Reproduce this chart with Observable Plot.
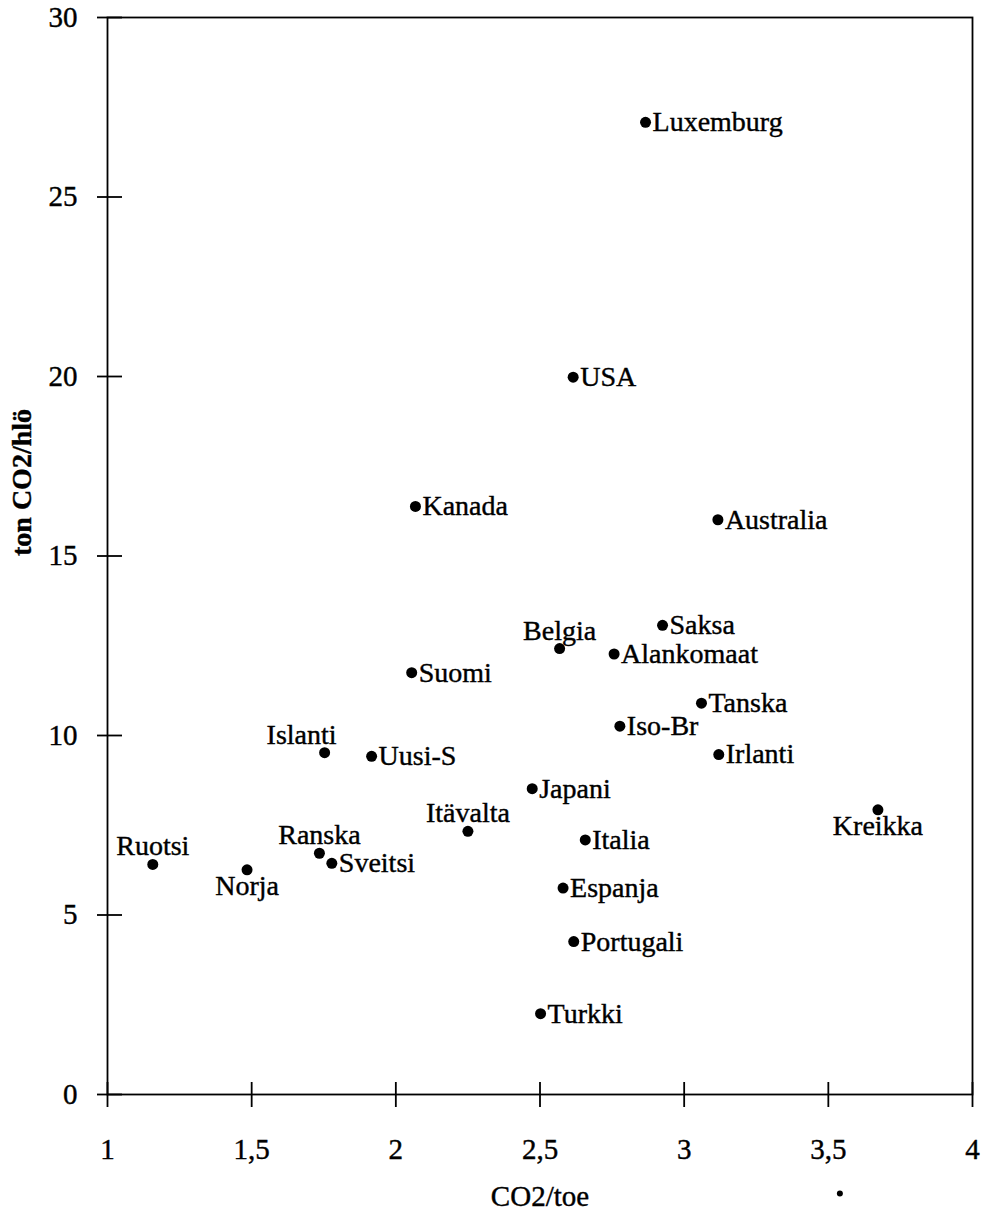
<!DOCTYPE html>
<html>
<head>
<meta charset="utf-8">
<script src="https://cdn.jsdelivr.net/npm/d3@7"></script>
<script src="https://cdn.jsdelivr.net/npm/@observablehq/plot@0.6"></script>
<style>
  html, body { margin: 0; padding: 0; background: #fff; }
  #chart svg { display: block; }
  #chart svg text { stroke: #000; stroke-width: 0.4px; }
</style>
</head>
<body>
<div id="chart"></div>
<script>
// ---- data ----
const countries = ["Luxemburg","USA","Kanada","Australia","Belgia","Saksa","Alankomaat","Suomi","Tanska","Iso-Br","Irlanti","Islanti","Uusi-S","Japani","Itävalta","Italia","Kreikka","Ruotsi","Norja","Ranska","Sveitsi","Espanja","Portugali","Turkki"];
const co2PerToe = [2.866, 2.615, 2.068, 3.117, 2.568, 2.925, 2.757, 2.055, 3.06, 2.777, 3.12, 1.753, 1.916, 2.473, 2.25, 2.657, 3.672, 1.157, 1.484, 1.735, 1.778, 2.58, 2.617, 2.502];
const co2PerCapita = [27.08, 19.98, 16.38, 16.01, 12.42, 13.07, 12.27, 11.75, 10.90, 10.26, 9.47, 9.52, 9.42, 8.52, 7.33, 7.09, 7.93, 6.41, 6.26, 6.72, 6.44, 5.75, 4.26, 2.25];
const xTicks = [1, 1.5, 2, 2.5, 3, 3.5, 4];
const yTicks = [0, 5, 10, 15, 20, 25, 30];
const xLabel = "CO2/toe";
const yLabel = "ton CO2/hlö";
// small stray mark printed below the x axis in the source
const strayX = [3.54];
const strayY = [-2.76];

// ---- build ----
const data = countries.map((name, i) => ({name, x: co2PerToe[i], y: co2PerCapita[i]}));
const stray = strayX.map((x, i) => ({x, y: strayY[i]}));
const above = new Set(["Belgia", "Ranska", "Ruotsi", "Itävalta"]);
const aboveLeft = new Set(["Islanti"]);
const below = new Set(["Norja", "Kreikka"]);
const rightLabels = data.filter(d => !above.has(d.name) && !aboveLeft.has(d.name) && !below.has(d.name));
const fmt = d => String(d).replace(".", ",");
const font = "'Liberation Serif', 'Times New Roman', Times, serif";
const FS = 28;
const SW = 1.8;

const chart = Plot.plot({
  width: 986,
  height: 1212,
  marginLeft: 107,
  marginRight: 14,
  marginTop: 17,
  marginBottom: 118,
  style: {fontFamily: font, fontSize: FS + "px", color: "#000", background: "#fff", overflow: "visible"},
  x: {domain: [1, 4]},
  y: {domain: [0, 30]},
  marks: [
    Plot.frame({stroke: "#000", strokeWidth: SW}),
    Plot.ruleX(xTicks, {x: d => d, y1: 0, y2: 0, insetTop: -12, insetBottom: -13, stroke: "#000", strokeWidth: SW}),
    Plot.ruleY(yTicks, {y: d => d, x1: 1, x2: 1, insetLeft: -10, insetRight: -15, stroke: "#000", strokeWidth: SW}),
    Plot.axisX(xTicks, {tickSize: 0, tickPadding: 44, tickFormat: fmt, fontSize: FS + 1, label: null, fontFamily: font}),
    Plot.axisY(yTicks, {tickSize: 0, tickPadding: 30, fontSize: FS + 1, label: null, fontFamily: font}),
    Plot.text([xLabel], {frameAnchor: "bottom", lineAnchor: "bottom", dy: 111, fontSize: FS + 1, fontFamily: font}),
    Plot.text([yLabel], {frameAnchor: "left", rotate: -90, dx: -85, fontSize: FS, fontWeight: "bold", fontFamily: font}),
    Plot.dot(data, {x: "x", y: "y", r: 5.5, fill: "#000", stroke: "none"}),
    Plot.dot(stray, {x: "x", y: "y", r: 3, fill: "#000", stroke: "none"}),
    Plot.text(rightLabels, {x: "x", y: "y", text: "name", textAnchor: "start", dx: 7, fontSize: FS, fontFamily: font}),
    Plot.text(data.filter(d => above.has(d.name)), {x: "x", y: "y", text: "name", textAnchor: "middle", lineAnchor: "bottom", dy: -9, fontSize: FS, fontFamily: font}),
    Plot.text(data.filter(d => aboveLeft.has(d.name)), {x: "x", y: "y", text: "name", textAnchor: "end", lineAnchor: "bottom", dx: 12, dy: -9, fontSize: FS, fontFamily: font}),
    Plot.text(data.filter(d => below.has(d.name)), {x: "x", y: "y", text: "name", textAnchor: "middle", lineAnchor: "bottom", dy: 25, fontSize: FS, fontFamily: font})
  ]
});
document.getElementById("chart").appendChild(chart);
</script>
</body>
</html>
